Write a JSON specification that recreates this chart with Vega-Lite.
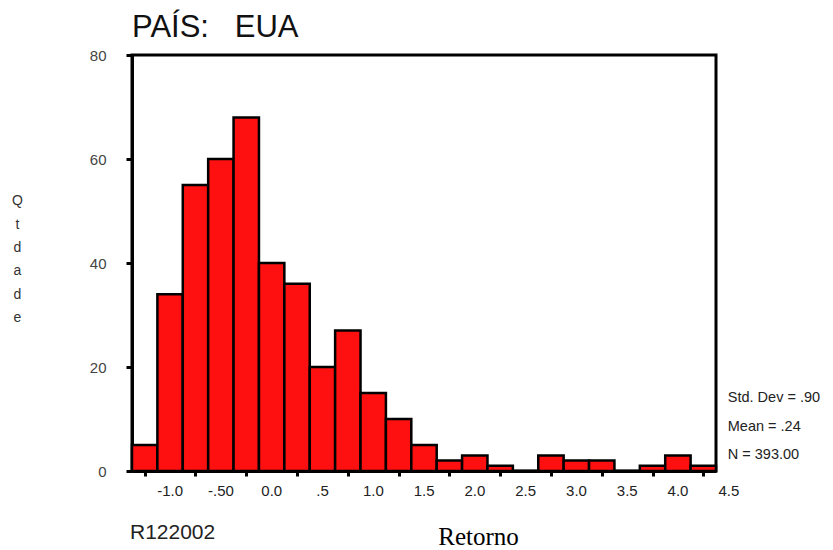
{
  "$schema": "https://vega.github.io/schema/vega-lite/v6.json",
  "autosize": {"type": "none"},
  "padding": {"left": 132, "top": 55, "right": 117, "bottom": 79},
  "width": 584,
  "height": 416,
  "background": "white",
  "config": {"view": {"stroke": "black", "strokeWidth": 3}, "font": "Liberation Sans"},
  "title": {"text": "PAÍS:\u2002\u2004EUA", "anchor": "start", "fontSize": 31, "fontWeight": "normal", "font": "Liberation Sans", "color": "#111", "offset": 4, "frame": "group"},
  "datasets": {
    "bins": [
      {"lo": -1.125, "hi": -0.875, "count": 5},
      {"lo": -0.875, "hi": -0.625, "count": 34},
      {"lo": -0.625, "hi": -0.375, "count": 55},
      {"lo": -0.375, "hi": -0.125, "count": 60},
      {"lo": -0.125, "hi": 0.125, "count": 68},
      {"lo": 0.125, "hi": 0.375, "count": 40},
      {"lo": 0.375, "hi": 0.625, "count": 36},
      {"lo": 0.625, "hi": 0.875, "count": 20},
      {"lo": 0.875, "hi": 1.125, "count": 27},
      {"lo": 1.125, "hi": 1.375, "count": 15},
      {"lo": 1.375, "hi": 1.625, "count": 10},
      {"lo": 1.625, "hi": 1.875, "count": 5},
      {"lo": 1.875, "hi": 2.125, "count": 2},
      {"lo": 2.125, "hi": 2.375, "count": 3},
      {"lo": 2.375, "hi": 2.625, "count": 1},
      {"lo": 2.625, "hi": 2.875, "count": 0},
      {"lo": 2.875, "hi": 3.125, "count": 3},
      {"lo": 3.125, "hi": 3.375, "count": 2},
      {"lo": 3.375, "hi": 3.625, "count": 2},
      {"lo": 3.625, "hi": 3.875, "count": 0},
      {"lo": 3.875, "hi": 4.125, "count": 1},
      {"lo": 4.125, "hi": 4.375, "count": 3},
      {"lo": 4.375, "hi": 4.625, "count": 1}
    ],
    "sd": [{"label": "Std. Dev = .90"}],
    "mean": [{"label": "Mean = .24"}],
    "n": [{"label": "N = 393.00"}],
    "var": [{"label": "R122002"}]
  },
  "layer": [
    {
      "data": {"name": "bins"},
      "mark": {"type": "rect", "fill": "#ff1010", "stroke": "black", "strokeWidth": 2.5},
      "encoding": {
        "x": {
          "field": "lo", "type": "quantitative",
          "scale": {"domain": [-1.125, 4.625], "nice": false, "zero": false},
          "axis": {
            "values": [-1, -0.5, 0, 0.5, 1, 1.5, 2, 2.5, 3, 3.5, 4, 4.5],
            "labelExpr": "datum.value == -1 ? '-1.0' : datum.value == -0.5 ? '-.50' : datum.value == 0.5 ? '.5' : format(datum.value, '.1f')",
            "labelOffset": 25, "labelFontSize": 15, "labelColor": "#222", "labelPadding": 7,
            "labelFlush": false, "labelOverlap": false, "labelFont": "Liberation Sans",
            "tickSize": 5, "tickWidth": 3, "tickColor": "black",
            "domainColor": "black", "domainWidth": 3, "grid": false,
            "title": "Retorno", "titleFont": "Liberation Serif", "titleFontSize": 25, "titleFontWeight": "normal",
            "titleX": 346, "titleY": 65, "titleBaseline": "middle", "titleAlign": "center", "titleColor": "black"
          }
        },
        "x2": {"field": "hi"},
        "y": {
          "field": "count", "type": "quantitative",
          "scale": {"domain": [0, 80], "nice": false},
          "axis": {
            "values": [0, 20, 40, 60, 80],
            "labelFontSize": 15, "labelColor": "#444", "labelPadding": 20, "labelFont": "Liberation Sans",
            "tickSize": 6, "tickWidth": 3, "tickColor": "black",
            "domainColor": "black", "domainWidth": 3, "grid": false,
            "title": ["Q", "t", "d", "a", "d", "e"], "titleAngle": 0, "titleX": -115, "titleY": 145.7,
            "titleAlign": "center", "titleBaseline": "middle", "titleLineHeight": 23.4,
            "titleFontSize": 14, "titleFontWeight": "normal", "titleColor": "#333", "titleFont": "Liberation Sans"
          }
        },
        "y2": {"datum": 0}
      }
    },
    {
      "data": {"name": "sd"},
      "mark": {"type": "text", "align": "left", "baseline": "middle", "fontSize": 14.5, "font": "Liberation Sans", "color": "#222"},
      "encoding": {"x": {"datum": 4.741, "type": "quantitative"}, "y": {"datum": 14.04, "type": "quantitative"}, "text": {"field": "label"}}
    },
    {
      "data": {"name": "mean"},
      "mark": {"type": "text", "align": "left", "baseline": "middle", "fontSize": 14.5, "font": "Liberation Sans", "color": "#222"},
      "encoding": {"x": {"datum": 4.741, "type": "quantitative"}, "y": {"datum": 8.46, "type": "quantitative"}, "text": {"field": "label"}}
    },
    {
      "data": {"name": "n"},
      "mark": {"type": "text", "align": "left", "baseline": "middle", "fontSize": 14.5, "font": "Liberation Sans", "color": "#222"},
      "encoding": {"x": {"datum": 4.741, "type": "quantitative"}, "y": {"datum": 3.08, "type": "quantitative"}, "text": {"field": "label"}}
    },
    {
      "data": {"name": "var"},
      "mark": {"type": "text", "align": "left", "baseline": "middle", "fontSize": 21, "font": "Liberation Sans", "color": "#222"},
      "encoding": {"x": {"datum": -1.145, "type": "quantitative"}, "y": {"datum": -11.92, "type": "quantitative"}, "text": {"field": "label"}}
    }
  ]
}
